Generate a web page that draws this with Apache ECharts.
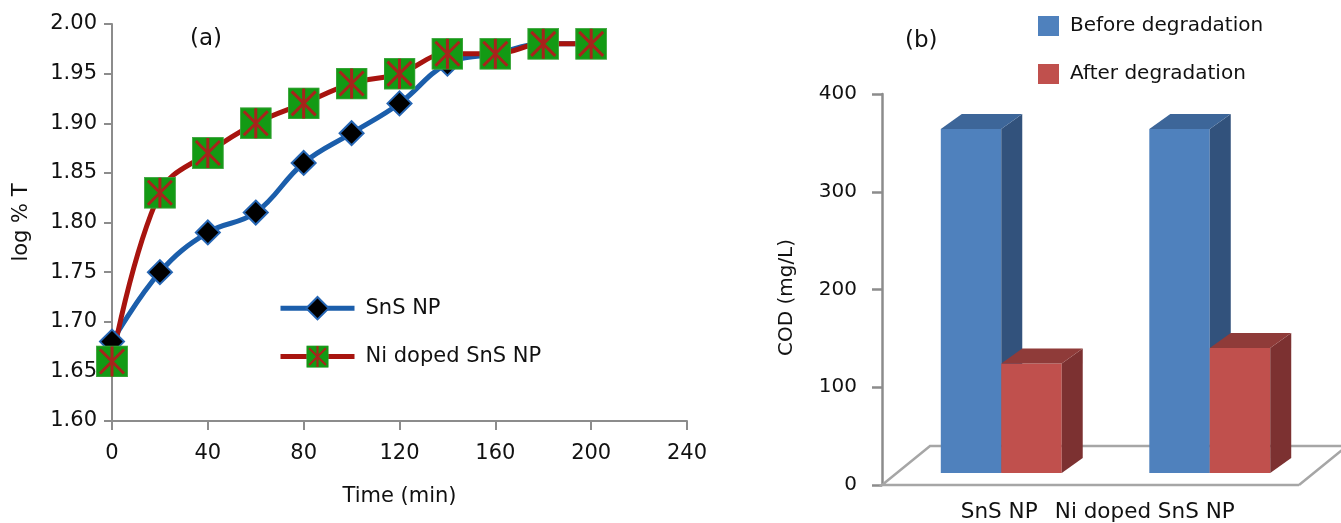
<!DOCTYPE html>
<html>
<head>
<meta charset="utf-8">
<script src="https://cdn.jsdelivr.net/npm/echarts@6/dist/echarts.min.js"></script>
<style>
  html, body { margin: 0; padding: 0; background: #fff; }
  #chart { width: 1341px; height: 523px; }
</style>
</head>
<body>
<div id="chart"></div>
<script>
// (a) log %T against time
const timeMin = [0, 20, 40, 60, 80, 100, 120, 140, 160, 180, 200];
const snsNP = [1.68, 1.75, 1.79, 1.81, 1.86, 1.89, 1.92, 1.96, 1.97, 1.98, 1.98];
const niSnsNP = [1.66, 1.83, 1.87, 1.90, 1.92, 1.94, 1.95, 1.97, 1.97, 1.98, 1.98];

// (b) COD before / after
const categories = ['SnS NP', 'Ni doped SnS NP'];
const codBefore = [352, 352];
const codAfter = [112, 128];

const font = 'DejaVu Sans';
const ink = '#111';
const axisGray = '#8c8c8c';

// green square with red asterisk
const niSvg = "<svg xmlns='http://www.w3.org/2000/svg' width='64' height='64' viewBox='0 0 32 32'>" +
  "<rect x='0.5' y='0.5' width='31' height='31' fill='#139a14' stroke='#45a845' stroke-width='1'/>" +
  "<path d='M4 4L28 28M28 4L4 28M16 1V31' stroke='#a8231c' stroke-width='3' fill='none'/></svg>";
const niSymbol = 'image://data:image/svg+xml;charset=utf-8,' + encodeURIComponent(niSvg);

const chart = echarts.init(document.getElementById('chart'));

// 3d-ish column: front face, right side, top
function bar3d(side, colors) {
  return function (params, api) {
    const c = api.value(0);
    const base = api.coord([c, 0]);
    const top = api.coord([c, api.value(1)]);
    const band = api.size([1, 0])[0];
    const barW = band * 0.29;
    const cx = base[0] + band * 0.072;
    const x0 = side === 0 ? cx - barW : cx;
    const x1 = x0 + barW;
    const yb = base[1] - 12, yt = top[1] - 12;
    const dx = 21, dy = 15;
    return {
      type: 'group',
      children: [
        { type: 'rect', shape: { x: x0, y: yt, width: barW, height: yb - yt }, style: { fill: colors[0] } },
        { type: 'polygon', shape: { points: [[x1, yt], [x1 + dx, yt - dy], [x1 + dx, yb - dy], [x1, yb]] }, style: { fill: colors[2] } },
        { type: 'polygon', shape: { points: [[x0, yt], [x0 + dx, yt - dy], [x1 + dx, yt - dy], [x1, yt]] }, style: { fill: colors[1] } }
      ]
    };
  };
}

// floor plane under the columns
function floor(params, api) {
  const base = api.coord([0, 0]);
  const band = api.size([1, 0])[0];
  const left = base[0] - band / 2;
  const right = left + band * categories.length;
  const y = base[1];
  return {
    type: 'polyline',
    shape: { points: [[right, y], [left, y], [left + 48, y - 39], [right + 48, y - 39], [right, y]] },
    style: { stroke: '#a6a6a6', lineWidth: 2.5, fill: null }
  };
}

chart.setOption({
  animation: false,
  textStyle: { fontFamily: font, color: ink },
  title: [
    { text: '(a)', left: 190, top: 28, padding: 0, textStyle: { fontFamily: font, fontSize: 23, fontWeight: 'normal', color: ink } },
    { text: '(b)', left: 905, top: 30, padding: 0, textStyle: { fontFamily: font, fontSize: 23, fontWeight: 'normal', color: ink } }
  ],
  legend: [
    {
      data: ['SnS NP', 'Ni doped SnS NP'],
      orient: 'vertical', left: 278, top: 296, padding: 0,
      itemWidth: 74, itemHeight: 28, itemGap: 25,
      lineStyle: { width: 5 },
      textStyle: { fontFamily: font, fontSize: 21, color: ink, padding: [0, 0, 0, 6] }
    },
    {
      data: ['Before degradation', 'After degradation'],
      orient: 'vertical', left: 1038, top: 16, padding: 0,
      icon: 'rect', itemWidth: 21, itemHeight: 20, itemGap: 28,
      textStyle: { fontFamily: font, fontSize: 20, color: ink, padding: [0, 0, 0, 6] }
    }
  ],
  grid: [
    { left: 112, top: 24, width: 575, height: 397 },
    { left: 882, top: 94, width: 417, height: 392 }
  ],
  xAxis: [
    {
      gridIndex: 0, type: 'value', min: 0, max: 240, interval: 40,
      name: 'Time (min)', nameLocation: 'middle', nameGap: 65,
      nameTextStyle: { fontFamily: font, fontSize: 21, color: ink },
      axisLine: { lineStyle: { color: axisGray, width: 2 } },
      axisTick: { length: 9, lineStyle: { color: axisGray, width: 2 } },
      axisLabel: { fontFamily: font, fontSize: 21, color: ink, margin: 22 },
      splitLine: { show: false }
    },
    {
      gridIndex: 1, type: 'category', data: [
        { value: categories[0], textStyle: { padding: [0, 0, 0, 26] } },
        { value: categories[1], textStyle: { padding: [0, 100, 0, 0] } }
      ],
      axisLine: { show: false }, axisTick: { show: false },
      axisLabel: { fontFamily: font, fontSize: 21.5, color: ink, margin: 16, interval: 0 }
    }
  ],
  yAxis: [
    {
      gridIndex: 0, type: 'value', min: 1.6, max: 2.0, interval: 0.05,
      name: 'log % T', nameLocation: 'middle', nameGap: 80,
      nameTextStyle: { fontFamily: font, fontSize: 21, color: ink },
      axisLine: { show: true, lineStyle: { color: axisGray, width: 2 } },
      axisTick: { show: true, length: 8, lineStyle: { color: axisGray, width: 2 } },
      axisLabel: { fontFamily: font, fontSize: 21, color: ink, margin: 15, formatter: v => v.toFixed(2) },
      splitLine: { show: false }
    },
    {
      gridIndex: 1, type: 'value', min: 0, max: 400, interval: 100,
      name: 'COD (mg/L)', nameLocation: 'middle', nameGap: 85,
      nameTextStyle: { fontFamily: font, fontSize: 20, color: ink, padding: [0, 16, 0, 0] },
      axisLine: { show: true, lineStyle: { color: axisGray, width: 2.5 } },
      axisTick: { show: true, length: 10, lineStyle: { color: axisGray, width: 2.5 } },
      axisLabel: { fontFamily: font, fontSize: 20, color: ink, margin: 25 },
      splitLine: { show: false }
    }
  ],
  series: [
    {
      name: 'SnS NP', type: 'line', xAxisIndex: 0, yAxisIndex: 0,
      data: timeMin.map((t, i) => [t, snsNP[i]]),
      smooth: 0.4,
      lineStyle: { color: '#1b5eab', width: 5 },
      symbol: 'diamond', symbolSize: 24,
      itemStyle: { color: '#000', borderColor: '#2666b4', borderWidth: 2 }
    },
    {
      name: 'Ni doped SnS NP', type: 'line', xAxisIndex: 0, yAxisIndex: 0,
      data: timeMin.map((t, i) => [t, niSnsNP[i]]),
      smooth: 0.4,
      lineStyle: { color: '#a8140f', width: 5 },
      symbol: niSymbol, symbolSize: 32,
      itemStyle: { color: '#139a14' }
    },
    {
      type: 'custom', xAxisIndex: 1, yAxisIndex: 1, silent: true, z: 1,
      data: [[0, 0]], renderItem: floor
    },
    {
      name: 'Before degradation', type: 'custom', xAxisIndex: 1, yAxisIndex: 1, z: 2,
      itemStyle: { color: '#4f81bd' },
      data: codBefore.map((v, i) => [i, v]),
      encode: { x: 0, y: 1 },
      renderItem: bar3d(0, ['#4f81bd', '#3d6699', '#32527c'])
    },
    {
      name: 'After degradation', type: 'custom', xAxisIndex: 1, yAxisIndex: 1, z: 3,
      itemStyle: { color: '#c0504d' },
      data: codAfter.map((v, i) => [i, v]),
      encode: { x: 0, y: 1 },
      renderItem: bar3d(1, ['#c0504d', '#8f3b39', '#7c3131'])
    }
  ]
});
</script>
</body>
</html>
